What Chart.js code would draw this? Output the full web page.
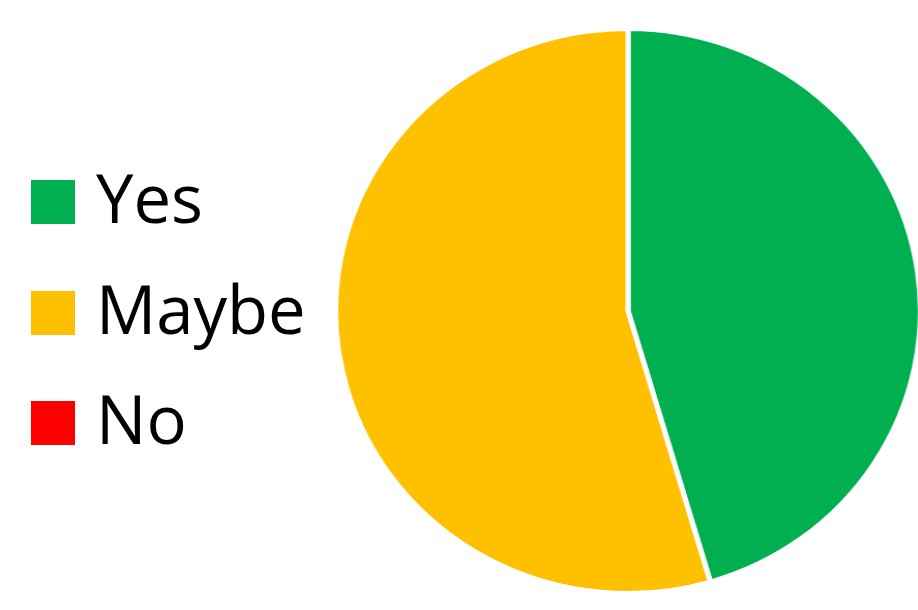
<!DOCTYPE html>
<html>
<head>
<meta charset="utf-8">
<script src="https://cdn.jsdelivr.net/npm/chart.js@4/dist/chart.umd.min.js"></script>
<style>
  html, body { margin: 0; padding: 0; background: #fff; }
  body { width: 918px; height: 610px; position: relative; overflow: hidden; }
  #pieBox {
    position: absolute;
    left: 342.5px; top: 25.5px;
    width: 570px; height: 570px;
    transform: scaleX(1.035);
    transform-origin: 50% 50%;
  }
  #legend { position: absolute; left: 31px; top: 180px; }
  .item { position: relative; height: 110.5px; }
  .box { position: absolute; left: 0; top: 0; width: 44px; height: 44px; }
  .label {
    position: absolute; left: 65px; top: -16px;
    font-family: "Open Sans", sans-serif; font-size: 67px; line-height: 67px;
    color: #000; white-space: nowrap;
  }
</style>
</head>
<body>
<div id="pieBox"><canvas id="pie"></canvas></div>
<div id="legend"></div>
<script>
const answers = ['Yes', 'Maybe', 'No'];
const counts = [5, 6, 0];
const sliceColors = ['#00B050', '#FFC000', '#FF0000'];

const chart = new Chart(document.getElementById('pie'), {
    type: 'pie',
    data: {
        labels: answers,
        datasets: [{
            data: counts,
            backgroundColor: sliceColors,
            borderColor: '#ffffff',
            borderWidth: 5,
            hoverOffset: 0
        }]
    },
    options: {
        responsive: true,
        maintainAspectRatio: false,
        animation: false,
        layout: { padding: 0 },
        plugins: {
            legend: { display: false },
            tooltip: { enabled: false }
        }
    }
});

// legend built from the chart's own labels and colours
const legendEl = document.getElementById('legend');
chart.data.labels.forEach((label, i) => {
    const item = document.createElement('div');
    item.className = 'item';
    item.innerHTML = `
        <div class="box" style="background:${chart.data.datasets[0].backgroundColor[i]}"></div>
        <span class="label">${label}</span>
    `;
    legendEl.appendChild(item);
});
</script>
</body>
</html>
